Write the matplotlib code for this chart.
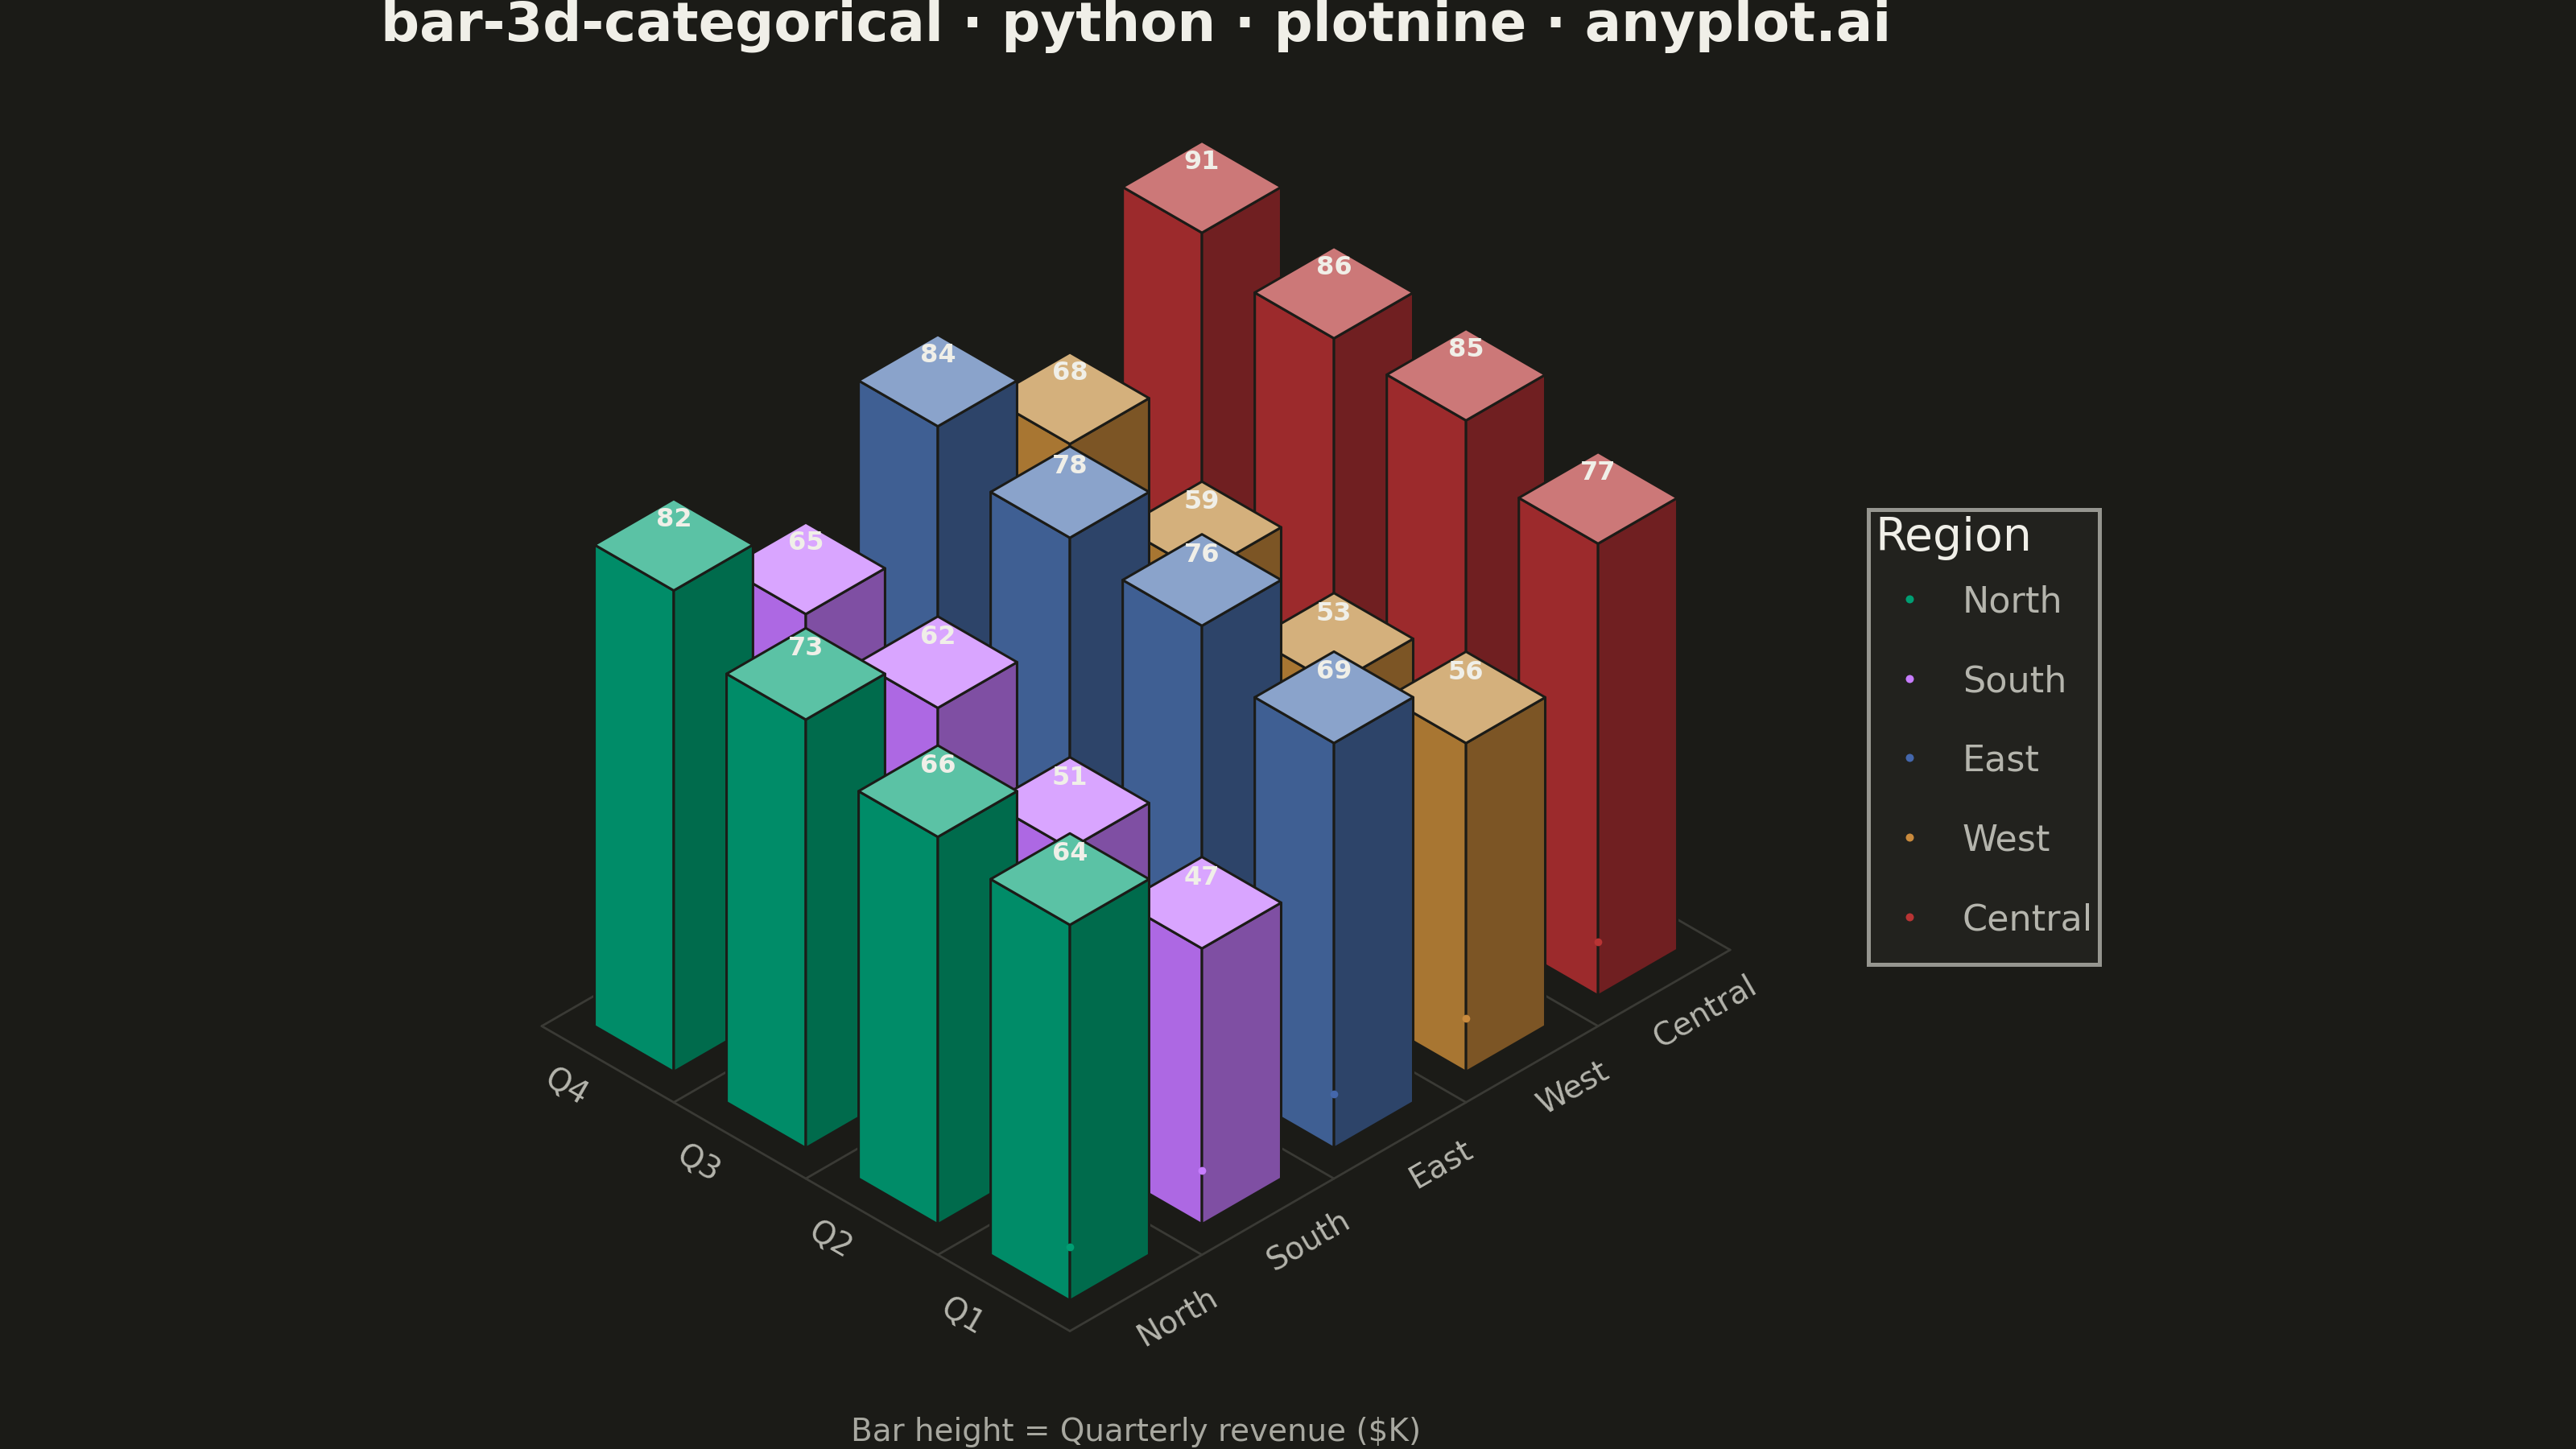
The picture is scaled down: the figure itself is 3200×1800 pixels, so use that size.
import math

import matplotlib

matplotlib.use("Agg")
import matplotlib.pyplot as plt
from matplotlib.lines import Line2D
from matplotlib.patches import Polygon

# --- data -------------------------------------------------------------
regions = ["North", "South", "East", "West", "Central"]
quarters = ["Q1", "Q2", "Q3", "Q4"]
revenue_north = [64, 66, 73, 82]
revenue_south = [47, 51, 62, 65]
revenue_east = [69, 76, 78, 84]
revenue_west = [56, 53, 59, 68]
revenue_central = [77, 85, 86, 91]
revenue = [revenue_north, revenue_south, revenue_east, revenue_west, revenue_central]

# colours per region: point, top face, left face, right face
point_colors = ["#009E73", "#C77DFF", "#4467AC", "#C98A3D", "#B83434"]
top_colors = ["#5BC2A5", "#D9A5FF", "#8AA3CB", "#D4B07C", "#CC7878"]
left_colors = ["#008C68", "#AD68E3", "#3F5F93", "#A87632", "#9C2A2C"]
right_colors = ["#006B4C", "#7F4FA3", "#2D4469", "#7C5525", "#701F21"]

BG = "#1B1B17"
INK = "#F0EFE8"
SOFT = "#B5B5AD"
GRID = "#3A3A35"

BAR_HALF = 0.3       # half bar width, in grid cells
Z_SCALE = 0.0385     # screen units per $K
POINT_LIFT = 0.053   # anchor points sit slightly above the floor
COS30 = math.cos(math.radians(30))
SIN30 = math.sin(math.radians(30))


def project(r, q, z=0.0):
    """Isometric projection of (region, quarter, height) to screen units."""
    return (r - q) * COS30, (r + q) * SIN30 + z * Z_SCALE


def main() -> None:
    plt.rcParams["font.family"] = ["DejaVu Sans"]
    fig = plt.figure(figsize=(16, 9), dpi=200, facecolor=BG)
    ax = fig.add_axes([0, 0, 1, 1])
    ax.set_facecolor(BG)
    ax.set_xlim(-7.017, 9.878)
    ax.set_ylim(-0.7735, 8.730)
    ax.axis("off")

    n_r, n_q = len(regions), len(quarters)

    # floor grid
    for r in range(n_r + 1):
        xs, ys = zip(project(r, 0), project(r, n_q))
        ax.plot(xs, ys, color=GRID, lw=1.0, zorder=1, solid_capstyle="round")
    for q in range(n_q + 1):
        xs, ys = zip(project(0, q), project(n_r, q))
        ax.plot(xs, ys, color=GRID, lw=1.0, zorder=1, solid_capstyle="round")

    # bars, painter's order: back (large r+q) first
    cells = [(i, j) for i in range(n_r) for j in range(n_q)]
    cells.sort(key=lambda c: -(c[0] + c[1]))
    z = 2
    for i, j in cells:
        v = revenue[i][j]
        r0, r1 = i + 0.5 - BAR_HALF, i + 0.5 + BAR_HALF
        q0, q1 = j + 0.5 - BAR_HALF, j + 0.5 + BAR_HALF
        left = [project(r0, q0), project(r0, q1), project(r0, q1, v), project(r0, q0, v)]
        right = [project(r0, q0), project(r1, q0), project(r1, q0, v), project(r0, q0, v)]
        top = [project(r0, q0, v), project(r1, q0, v), project(r1, q1, v), project(r0, q1, v)]
        for pts, col in ((left, left_colors[i]), (right, right_colors[i]), (top, top_colors[i])):
            ax.add_patch(Polygon(pts, closed=True, facecolor=col, edgecolor=BG,
                                 lw=1.1, joinstyle="round", zorder=z))
        z += 1

    # value labels on top of the bars
    for i in range(n_r):
        for j in range(n_q):
            v = revenue[i][j]
            x, y = project(i + 0.5, j + 0.5, v)
            ax.text(x, y + 0.165, f"{v}", ha="center", va="center", fontsize=11.5,
                    fontweight="bold", color=INK, zorder=200)

    # anchor points at the front row bases (also used for the legend)
    for i in range(n_r):
        x, y = project(i + 0.5, 0.5)
        ax.plot([x], [y + POINT_LIFT], "o", ms=3.5, color=point_colors[i], mec="none",
                zorder=150)

    # axis tick labels along the floor edges
    for j, name in enumerate(quarters):
        x, y = project(-0.31, j + 0.5)
        ax.text(x, y, name, ha="center", va="center", rotation=-30, fontsize=14,
                color=SOFT, rotation_mode="anchor", zorder=5)
    for i, name in enumerate(regions):
        x, y = project(i + 0.5, -0.31)
        ax.text(x, y, name, ha="center", va="center", rotation=30, fontsize=14,
                color=SOFT, rotation_mode="anchor", zorder=5)

    # legend
    handles = [
        Line2D([], [], marker="o", ls="none", ms=3.6, color=c, mec="none")
        for c in point_colors
    ]
    leg = fig.legend(
        handles, regions, title="Region", loc="upper left",
        bbox_to_anchor=(0.7253, 0.6483), borderaxespad=0, frameon=True,
        fancybox=False, fontsize=16, title_fontsize=20.5, labelcolor=SOFT,
        handlelength=1.95, handletextpad=0.5, labelspacing=0.08, handleheight=2.92,
        borderpad=0.18, alignment="left",
    )
    # tall handle boxes push the dots up; bring them back level with the labels
    for h in leg.legend_handles:
        h.set_ydata([y - 5.0 for y in h.get_ydata()])
    leg.get_title().set_color(INK)
    frame = leg.get_frame()
    frame.set_facecolor("#252521")
    frame.set_edgecolor("#B5B5AE")
    frame.set_linewidth(1.8)

    fig.text(0.441, 1 - 51 / 1800, "bar-3d-categorical · python · plotnine · anyplot.ai",
             ha="center", va="baseline", fontsize=24.2, fontweight="bold", color=INK)
    fig.text(0.441, 1 - 1790 / 1800, "Bar height = Quarterly revenue ($K)",
             ha="center", va="baseline", fontsize=14, color="#A8A8A0")

    fig.savefig("out.png", dpi=200, facecolor=BG)
    plt.close(fig)


if __name__ == "__main__":
    main()
